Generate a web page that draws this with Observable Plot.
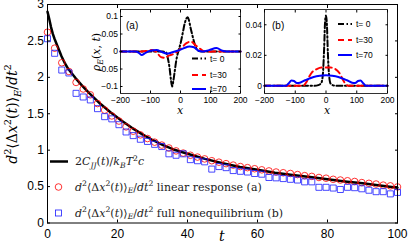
<!DOCTYPE html>
<html><head><meta charset="utf-8">
<script src="https://cdn.jsdelivr.net/npm/d3@7"></script>
<script src="https://cdn.jsdelivr.net/npm/@observablehq/plot@0.6"></script>
<style>
html,body{margin:0;padding:0;background:#fff;}
#wrap{position:relative;width:415px;height:250px;overflow:hidden;background:#fff;}
#wrap svg{position:absolute;overflow:visible;}
text{white-space:pre;}
</style></head><body><div id="wrap"></div>
<script>
// ---------- main panel data ----------
const tSample = [0, 2.04, 4.08, 6.12, 8.16, 10.2, 12.24, 14.29, 16.33, 18.37, 20.41, 22.45, 24.49, 26.53, 28.57, 30.61, 32.65, 34.69, 36.73, 38.78, 40.82, 42.86, 44.9, 46.94, 48.98, 51.02, 53.06, 55.1, 57.14, 59.18, 61.22, 63.27, 65.31, 67.35, 69.39, 71.43, 73.47, 75.51, 77.55, 79.59, 81.63, 83.67, 85.71, 87.76, 89.8, 91.84, 93.88, 95.92, 97.96, 100];
const redLinear = [2.62, 2.40, 2.20, 2.08, 1.93, 1.84, 1.76, 1.64, 1.55, 1.47, 1.40, 1.32, 1.26, 1.21, 1.16, 1.11, 1.07, 1.03, 0.99, 0.96, 0.93, 0.905, 0.88, 0.855, 0.835, 0.815, 0.795, 0.775, 0.76, 0.745, 0.73, 0.715, 0.70, 0.69, 0.68, 0.665, 0.65, 0.64, 0.625, 0.615, 0.60, 0.59, 0.58, 0.57, 0.555, 0.545, 0.535, 0.52, 0.51, 0.495];
const blueFull = [2.53, 2.33, 2.10, 2.06, 1.78, 1.73, 1.69, 1.57, 1.46, 1.43, 1.35, 1.25, 1.20, 1.15, 1.12, 1.08, 1.05, 0.95, 0.93, 0.95, 0.87, 0.855, 0.84, 0.74, 0.775, 0.76, 0.72, 0.71, 0.70, 0.68, 0.67, 0.625, 0.62, 0.61, 0.60, 0.59, 0.565, 0.565, 0.49, 0.49, 0.48, 0.46, 0.49, 0.485, 0.47, 0.45, 0.43, 0.43, 0.40, 0.42];
const tCurve = [0, 0.5, 1, 1.5, 2, 3, 4, 5, 6, 8, 10, 12, 15, 18, 21, 24, 27, 30, 33, 36, 40, 45, 50, 55, 60, 65, 70, 75, 80, 85, 90, 95, 100];
const cjjCurve = [2.90, 2.80, 2.69, 2.60, 2.53, 2.41, 2.29, 2.19, 2.11, 1.99, 1.88, 1.78, 1.64, 1.52, 1.41, 1.31, 1.22, 1.14, 1.07, 1.01, 0.95, 0.88, 0.82, 0.77, 0.73, 0.69, 0.66, 0.63, 0.60, 0.57, 0.545, 0.515, 0.485];
const xTicksMain = [0, 20, 40, 60, 80, 100];
const yTicksMain = [0, 0.5, 1, 1.5, 2, 2.5, 3];

// ---------- inset (a): linear response ----------
const xA0 = [-200, -60, -48, -42, -36, -32, -28, -24, -19, -14, -9, -4, 2, 8, 14, 20, 24, 28, 33, 40, 47, 54, 60, 70, 200];
const rhoA0 = [0, 0, -0.003, -0.02, -0.05, -0.08, -0.1, -0.085, -0.055, -0.025, -0.005, 0.01, 0.03, 0.055, 0.08, 0.095, 0.098, 0.09, 0.07, 0.045, 0.022, 0.007, 0.002, 0, 0];
const xA30 = [-200, -130, -110, -95, -80, -65, -50, -40, -25, -10, 5, 20, 35, 50, 62, 75, 90, 110, 200];
const rhoA30 = [0, 0, 0.002, 0.004, -0.002, -0.016, -0.018, -0.012, -0.008, 0.0, 0.012, 0.024, 0.028, 0.018, 0.010, 0.002, -0.001, 0, 0];
const xA70 = [-200, -150, -140, -130, -115, -100, -80, -60, -45, -30, -10, 10, 30, 45, 60, 75, 95, 120, 140, 155, 200];
const rhoA70 = [0, 0, -0.003, -0.01, -0.003, 0.002, 0.004, -0.002, -0.006, -0.003, 0.002, 0.009, 0.014, 0.012, 0.002, 0.0, 0.004, 0.010, 0.002, 0, 0];

// ---------- inset (b): full nonequilibrium ----------
const xB0 = [-200, -40, -25, -15, -10, -6, -3, 0, 3, 6, 10, 15, 25, 40, 200];
const rhoB0 = [0, 0, 0.0005, 0.002, 0.008, 0.025, 0.042, 0.046, 0.04, 0.022, 0.007, 0.0015, 0.0003, 0, 0];
const xB30 = [-200, -75, -65, -55, -45, -30, -15, 0, 15, 30, 45, 55, 65, 75, 200];
const rhoB30 = [0, 0, 0.002, 0.006, 0.009, 0.011, 0.012, 0.012, 0.012, 0.011, 0.008, 0.004, 0.001, 0, 0];
const xB70 = [-200, -130, -122, -112, -104, -95, -85, -70, -55, -40, -20, 0, 20, 40, 55, 70, 85, 95, 104, 112, 122, 130, 200];
const rhoB70 = [0, 0, 0.0015, 0.0035, 0.0032, 0.0018, 0.002, 0.0035, 0.0047, 0.0058, 0.0066, 0.0069, 0.0066, 0.0058, 0.0047, 0.0035, 0.002, 0.0018, 0.0032, 0.0035, 0.0015, 0, 0];
const xTicksInset = [-200, -100, 0, 100, 200];
const yTicksA = [-0.1, -0.05, 0, 0.05, 0.1];
const yTicksB = [0, 0.02, 0.04];
const insetLegend = ["t= 0", "t=30", "t=70"];

// ---------- styles ----------
const dashDot = "6,2.5,1.5,2.5";
const dashed = "6,4";
const sansFont = "'Liberation Sans', Arial, Helvetica, sans-serif";
const serifFont = "'DejaVu Serif', 'Liberation Serif', serif";
const fmt = d => (d < 0 ? "\u2212" : "") + String(Math.abs(d));

const wrap = document.getElementById("wrap");

// ---------- main plot ----------
const redData = tSample.map((t, i) => ({t, v: redLinear[i]}));
const blueData = tSample.map((t, i) => ({t, v: blueFull[i]}));
const curveData = tCurve.map((t, i) => ({t, v: cjjCurve[i]}));

const mainSvg = Plot.plot({
  width: 415, height: 250,
  marginLeft: 47, marginRight: 18, marginTop: 4, marginBottom: 27.5,
  x: {domain: [0, 100]},
  y: {domain: [0, 3]},
  style: {fontFamily: sansFont, fontSize: "12px", background: "transparent", color: "black", overflow: "visible"},
  marks: [
    Plot.line(curveData, {x: "t", y: "v", stroke: "black", strokeWidth: 2.5}),
    Plot.dot(redData, {x: "t", y: "v", r: 3.3, symbol: "circle", stroke: "#ff0000", strokeWidth: 0.8, fill: "none"}),
    Plot.dot(blueData, {x: "t", y: "v", r: 3.4, symbol: "square", stroke: "#1a1aff", strokeWidth: 0.8, fill: "none"}),
    Plot.frame({stroke: "black", strokeWidth: 1}),
    Plot.axisX({anchor: "bottom", ticks: xTicksMain, tickSize: -3, tickPadding: 9, label: null, tickFormat: fmt}),
    Plot.axisX({anchor: "top", ticks: xTicksMain, tickSize: -3, label: null, tickFormat: () => ""}),
    Plot.axisY({anchor: "left", ticks: yTicksMain, tickSize: -3, tickPadding: 6.5, label: null, tickFormat: fmt}),
    Plot.axisY({anchor: "right", ticks: yTicksMain, tickSize: -3, label: null, tickFormat: () => ""})
  ]
});
mainSvg.style.left = "0px"; mainSvg.style.top = "0px";
wrap.appendChild(mainSvg);

function mathText(sel, parts, fs) {
  let cur = 0;
  for (const p of parts) {
    const target = p.s === "sup" ? -0.4 * fs : p.s === "sub" ? 0.25 * fs : 0;
    sel.append("tspan")
      .attr("dy", target - cur)
      .attr("font-size", p.s ? fs * 0.7 : fs)
      .attr("font-style", p.i ? "italic" : "normal")
      .text(p.t);
    cur = target;
  }
}
const I = (t, s) => ({t, i: true, s});
const R = (t, s) => ({t, i: false, s});
const d2x2 = [I("d"), R("2", "sup"), R("\u27E8\u0394"), I("x"), R("2", "sup"), R("("), I("t"), R(")\u27E9"), I("E", "sub"), R("/"), I("dt"), R("2", "sup")];

const ms = d3.select(mainSvg);
// y label
const yl = ms.append("text").attr("transform", "translate(17,114) rotate(-90)")
  .attr("text-anchor", "middle").attr("font-family", serifFont).attr("fill", "black");
mathText(yl, d2x2, 14);
// x label
ms.append("text").attr("x", 221.7).attr("y", 241).attr("text-anchor", "middle")
  .attr("font-family", serifFont).attr("font-style", "italic").attr("font-size", 14).text("t");

// main legend
const lg = ms.append("g");
lg.append("line").attr("x1", 50).attr("x2", 68).attr("y1", 161.5).attr("y2", 161.5).attr("stroke", "black").attr("stroke-width", 2.5);
lg.append("circle").attr("cx", 58.5).attr("cy", 187).attr("r", 3.3).attr("fill", "none").attr("stroke", "#ff0000").attr("stroke-width", 0.8);
lg.append("rect").attr("x", 55.5).attr("y", 210).attr("width", 6).attr("height", 6).attr("fill", "none").attr("stroke", "#1a1aff").attr("stroke-width", 0.8);
const legendRows = [
  {y: 165, parts: [R("2"), I("C"), I("JJ", "sub"), R("("), I("t"), R(")/"), I("k"), I("B", "sub"), I("T"), R("2", "sup"), I("c")]},
  {y: 190.5, parts: [...d2x2, R(" linear response (a)")]},
  {y: 216.5, parts: [...d2x2, R(" full nonequilibrium (b)")]}
];
for (const row of legendRows) {
  const t = lg.append("text").attr("x", 75).attr("y", row.y).attr("text-anchor", "start")
    .attr("font-family", serifFont).attr("fill", "#222");
  mathText(t, row.parts, 11);
}

// ---------- insets ----------
function makeInset({left, top, w, h, mL, mR, mT, mB, yDomain, yTicks, series, tag, legendX, legendY, xlabelX}) {
  const svg = Plot.plot({
    width: w, height: h, marginLeft: mL, marginRight: mR, marginTop: mT, marginBottom: mB,
    x: {domain: [-200, 200]},
    y: {domain: yDomain},
    style: {fontFamily: sansFont, fontSize: "8.5px", background: "transparent", color: "black", overflow: "visible"},
    marks: [
      Plot.frame({fill: "white", stroke: null}),
      ...series.map(s => Plot.line(s.xs.map((x, i) => ({x, v: s.vs[i]})), {x: "x", y: "v", stroke: s.color, strokeWidth: 2, strokeDasharray: s.dash, curve: "monotone-x"})),
      Plot.frame({stroke: "black", strokeWidth: 0.8}),
      Plot.axisX({anchor: "bottom", ticks: xTicksInset, tickSize: -2.5, tickPadding: 6, label: null, tickFormat: fmt}),
      Plot.axisX({anchor: "top", ticks: xTicksInset, tickSize: -2.5, label: null, tickFormat: () => ""}),
      Plot.axisY({anchor: "left", ticks: yTicks, tickSize: -2.5, tickPadding: 5, label: null, tickFormat: fmt}),
      Plot.axisY({anchor: "right", ticks: yTicks, tickSize: -2.5, label: null, tickFormat: () => ""})
    ]
  });
  svg.style.left = left + "px"; svg.style.top = top + "px";
  wrap.appendChild(svg);
  const s = d3.select(svg);
  s.append("text").attr("x", tag.x - left).attr("y", tag.y - top).attr("text-anchor", "start")
    .attr("font-family", sansFont).attr("font-size", 10).text(tag.t);
  series.forEach((sr, i) => {
    const y = legendY[i] - top;
    s.append("line").attr("x1", legendX - left).attr("x2", legendX + 14 - left).attr("y1", y).attr("y2", y)
      .attr("stroke", sr.color).attr("stroke-width", 2).attr("stroke-dasharray", sr.dash);
    s.append("text").attr("x", legendX + 18 - left).attr("y", y + 3).attr("text-anchor", "start")
      .attr("font-family", sansFont).attr("font-size", 8.5).text(insetLegend[i]);
  });
  s.append("text").attr("x", xlabelX - left).attr("y", 114 - top).attr("text-anchor", "middle")
    .attr("font-family", serifFont).attr("font-style", "italic").attr("font-size", 11).text("x");
  return s;
}

const sa = makeInset({
  left: 80, top: 0, w: 170, h: 118, mL: 40, mR: 10, mT: 9, mB: 25,
  yDomain: [-0.12, 0.12], yTicks: yTicksA,
  series: [
    {xs: xA0, vs: rhoA0, color: "black", dash: dashDot},
    {xs: xA30, vs: rhoA30, color: "#ff0000", dash: dashed},
    {xs: xA70, vs: rhoA70, color: "#0000ff", dash: null}
  ],
  tag: {t: "(a)", x: 126, y: 29}, legendX: 192, legendY: [58.5, 75, 89], xlabelX: 180
});
// inset (a) y label
const ryl = sa.append("text").attr("transform", `translate(${100 - 80},52) rotate(-90)`)
  .attr("text-anchor", "middle").attr("font-family", serifFont).attr("fill", "black");
mathText(ryl, [I("\u03C1"), I("E", "sub"), R("("), I("x"), R(", "), I("t"), R(")")], 11);

makeInset({
  left: 240, top: 0, w: 160, h: 118, mL: 24, mR: 13, mT: 9, mB: 25,
  yDomain: [-0.005, 0.05], yTicks: yTicksB,
  series: [
    {xs: xB0, vs: rhoB0, color: "black", dash: dashDot},
    {xs: xB30, vs: rhoB30, color: "#ff0000", dash: dashed},
    {xs: xB70, vs: rhoB70, color: "#0000ff", dash: null}
  ],
  tag: {t: "(b)", x: 272, y: 29}, legendX: 338, legendY: [24, 40, 55], xlabelX: 327
});
</script>
</body></html>
